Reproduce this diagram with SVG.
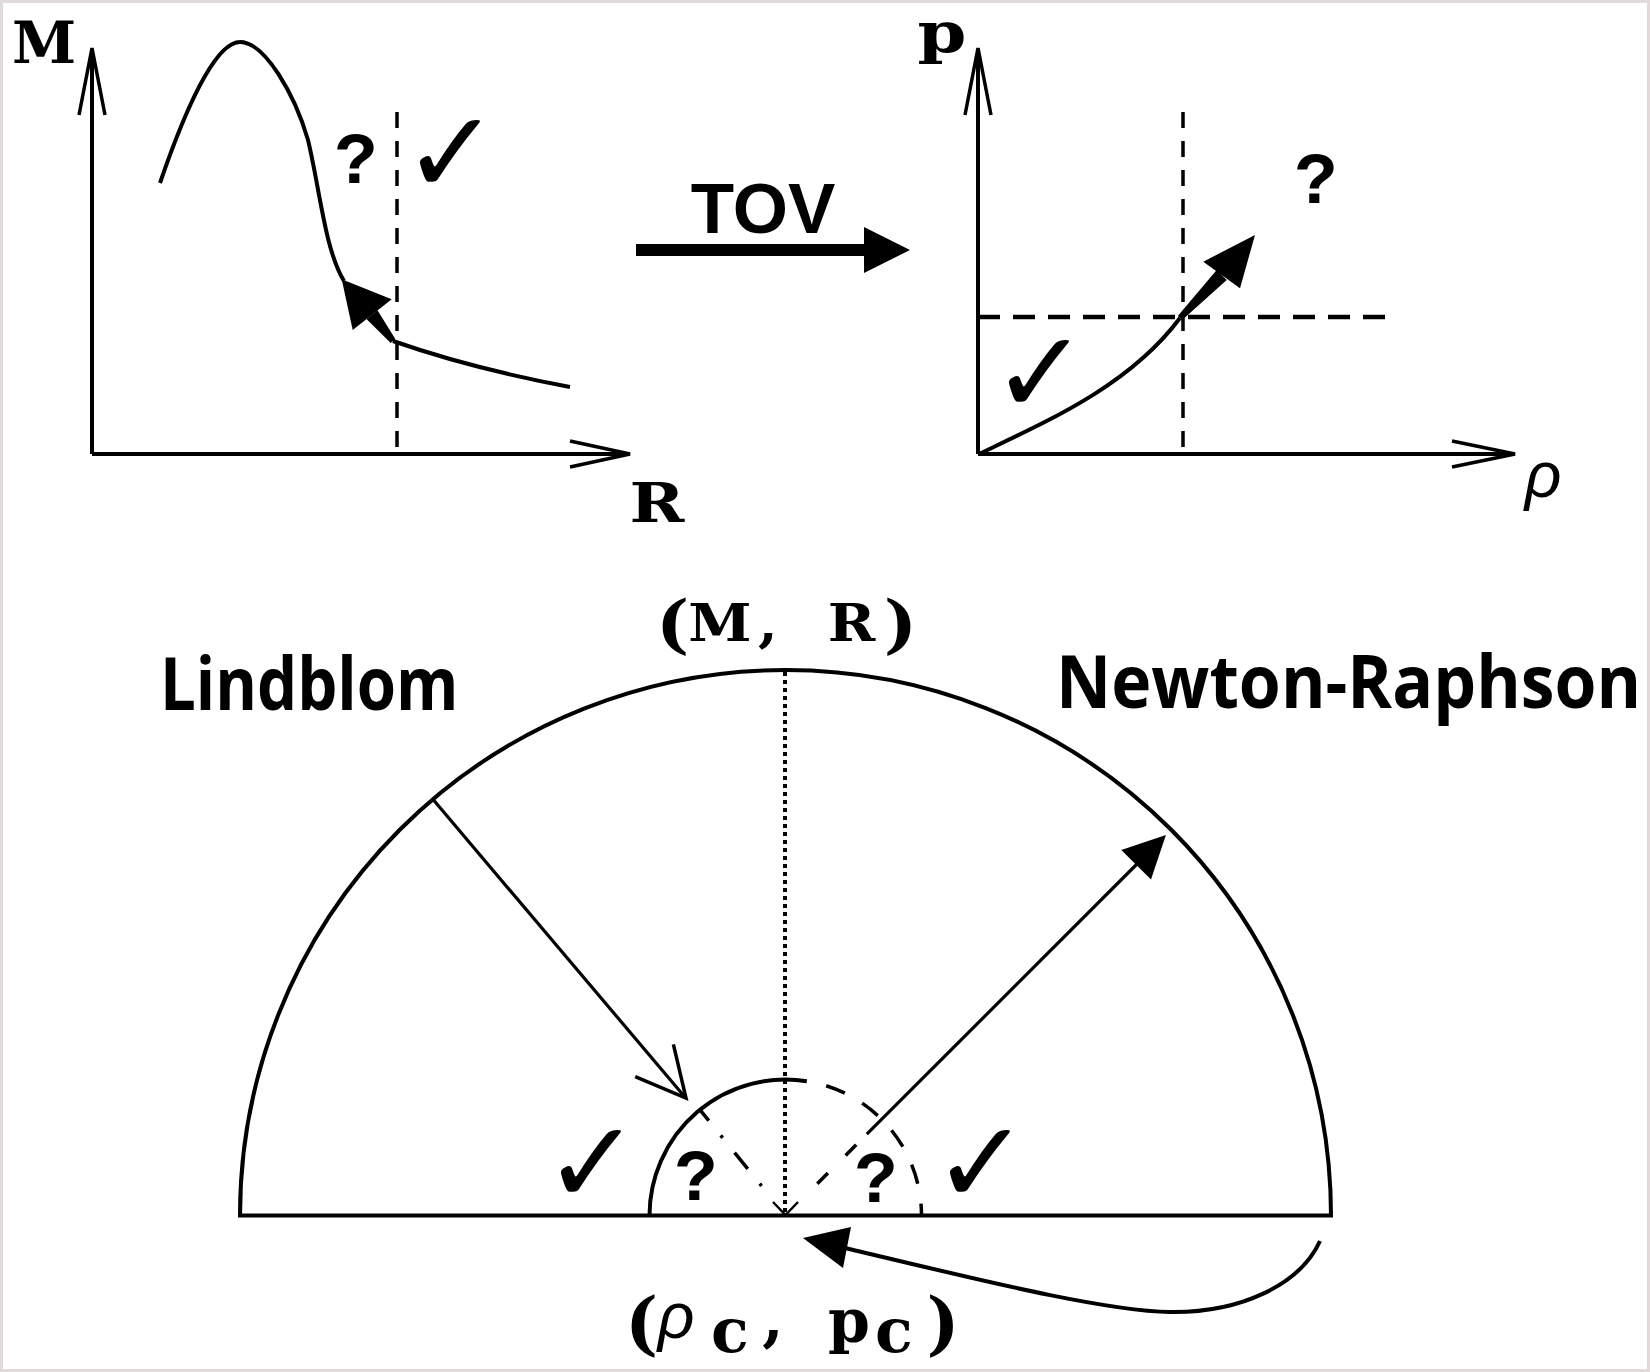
<svg xmlns="http://www.w3.org/2000/svg" width="1650" height="1372" viewBox="0 0 1650 1372">
<defs>
<style>
.ln{fill:none;stroke:#000;stroke-width:4}
.thin{fill:none;stroke:#000;stroke-width:3.2}
.vd{fill:none;stroke:#000;stroke-width:3.5;stroke-dasharray:16 13}
.hd{fill:none;stroke:#000;stroke-width:3.5;stroke-linejoin:miter}
.blk{fill:#000;stroke:none}
.ser{font-family:"DejaVu Serif","Liberation Serif",serif;font-weight:bold;fill:#000}
.q{font-family:"Liberation Mono","Courier New",monospace;font-weight:bold;font-size:72px;text-anchor:middle;fill:#000}
.chk{font-family:"DejaVu Sans",sans-serif;font-weight:bold;font-size:116px;text-anchor:middle;fill:#000}
.hand{font-family:"Open Sans","DejaVu Sans",sans-serif;font-weight:bold;font-size:73px;fill:#000}
</style>
</defs>
<rect x="0" y="0" width="1650" height="1372" fill="#fff"/>
<rect x="1.5" y="1.5" width="1647" height="1369" fill="none" stroke="#e2dada" stroke-width="3"/>

<g id="graph-mr">
  <line x1="92" y1="454" x2="92" y2="52" class="ln"/>
  <path d="M79,115 L92,48 L105,115" class="hd"/>
  <line x1="92" y1="454" x2="626" y2="454" class="ln"/>
  <path d="M570,441 L630,454 L570,467" class="hd"/>
  <line x1="397" y1="112" x2="397" y2="454" class="vd"/>
  <path d="M160,183 C185,110 215,42 240,42 C265,42 295,95 308,140 C320,190 325,250 344,281" class="ln"/>
  <path d="M570,387 Q470,368 393,341" class="ln"/>
  <polygon class="blk" points="395.3,339.1 390.7,342.9 366.5,319.1 377.5,310.3"/>
  <polygon class="blk" points="341.7,279.3 391.7,299.3 352.7,330"/>
  <text class="ser" x="44" y="63" font-size="58" text-anchor="middle">M</text>
  <text class="ser" transform="translate(657,522) scale(1.2,1)" font-size="55" text-anchor="middle">R</text>
  <text class="q" x="356" y="183">?</text>
  <text class="chk" x="451" y="193">✓</text>
</g>

<g id="graph-prho">
  <line x1="978" y1="454" x2="978" y2="52" class="ln"/>
  <path d="M965,115 L978,48 L991,115" class="hd"/>
  <line x1="978" y1="454" x2="1511" y2="454" class="ln"/>
  <path d="M1452,441 L1515,454 L1452,467" class="hd"/>
  <line x1="1183" y1="112" x2="1183" y2="454" class="vd"/>
  <line x1="978" y1="317" x2="1392" y2="317" fill="none" stroke="#000" stroke-width="4.5" stroke-dasharray="22 13"/>
  <path d="M979,454 C1050,420 1130,385 1180,318" class="ln"/>
  <polygon class="blk" points="1182.2,320.1 1177.8,315.9 1216.7,270.1 1226.7,279.9"/>
  <polygon class="blk" points="1255,235 1203.3,261.7 1240,288.3"/>
  <text class="ser" transform="translate(942,52) scale(1.25,1)" font-size="56" text-anchor="middle">p</text>
  <text x="1543" y="497" font-family="Liberation Sans, sans-serif" font-style="italic" font-size="64" text-anchor="middle">ρ</text>
  <text class="q" x="1316" y="203">?</text>
  <text class="chk" x="1040" y="413">✓</text>
</g>

<g id="tov-label">
  <text x="763" y="233" font-family="Liberation Sans, Arial, sans-serif" font-weight="bold" font-size="71" text-anchor="middle">TOV</text>
</g>

<g id="solution-space">
  <path d="M240,1215.5 A545.5,545.5 0 0 1 1331,1215.5 Z" class="ln"/>
  <path d="M649.5,1215.5 A136,136 0 0 1 806.8,1081.2" class="ln" stroke-width="3.5"/>
  <path d="M806.8,1081.2 A136,136 0 0 1 921.5,1215.5" fill="none" stroke="#000" stroke-width="3.5" stroke-dasharray="20 20" stroke-dashoffset="20"/>
  <line x1="700" y1="1109.8" x2="761.6" y2="1186" fill="none" stroke="#000" stroke-width="3.5" stroke-dasharray="21 19 3 19" stroke-dashoffset="7"/>
  <line x1="856.2" y1="1144.8" x2="817.3" y2="1183.7" fill="none" stroke="#000" stroke-width="3.5" stroke-dasharray="15 25"/>
  <line x1="785" y1="672" x2="785" y2="1212" fill="none" stroke="#000" stroke-width="4" stroke-dasharray="4 4"/>
  <path d="M773,1202 L785.5,1215 L798,1202" fill="none" stroke="#000" stroke-width="2.5"/>
</g>

<g id="label-mr">
  <text class="ser" font-size="52" text-anchor="middle" transform="translate(0,641) scale(1.1,1)"><tspan x="611.4" y="5" font-size="64">(</tspan><tspan x="654.5" y="0">M</tspan><tspan x="698.2" y="0">,</tspan><tspan x="774.1" y="0">R</tspan><tspan x="818.6" y="5" font-size="64">)</tspan></text>
</g>
<g id="label-lindblom"><text class="hand" transform="translate(160,710) scale(0.87,1)" x="0" y="0">Lindblom</text></g>
<g id="label-newton"><text class="hand" transform="translate(1056,708) scale(0.93,1)" x="0" y="0">Newton-Raphson</text></g>
<g id="label-central">
  <text class="ser" font-size="62" text-anchor="middle"><tspan x="641.5" y="1347" font-size="70">(</tspan><tspan x="676" y="1338" font-family="Liberation Sans, sans-serif" font-style="italic" font-weight="normal" font-size="64">ρ</tspan><tspan x="730" y="1352">c</tspan><tspan x="773" y="1340">,</tspan><tspan x="849" y="1342" font-size="60">p</tspan><tspan x="894" y="1352">c</tspan><tspan x="943" y="1347" font-size="70">)</tspan></text>
</g>
<g id="marks-bottom">
  <text class="q" x="696" y="1200">?</text>
  <text class="q" x="876" y="1202">?</text>
  <text class="chk" x="592" y="1203">✓</text>
  <text class="chk" x="981" y="1203">✓</text>
</g>

<g id="connectors">
  <line x1="636" y1="250" x2="866" y2="250" stroke="#000" stroke-width="12"/>
  <polygon class="blk" points="864,227 910,250 864,273"/>
  <line x1="432.9" y1="799.3" x2="684" y2="1096" class="thin"/>
  <path d="M635.2,1076.7 L686,1098 L673.4,1044.4" class="hd" stroke-width="3"/>
  <line x1="866.8" y1="1134.2" x2="1140" y2="861" class="thin"/>
  <polygon class="blk" points="1165.9,835.1 1151,879.6 1121.3,850"/>
  <path d="M1320,1241 C1300,1285 1240,1313 1170,1312 C1100,1311 960,1275 845,1248" class="ln"/>
  <polygon class="blk" points="803,1238 851,1227 843,1268"/>
</g>
</svg>
